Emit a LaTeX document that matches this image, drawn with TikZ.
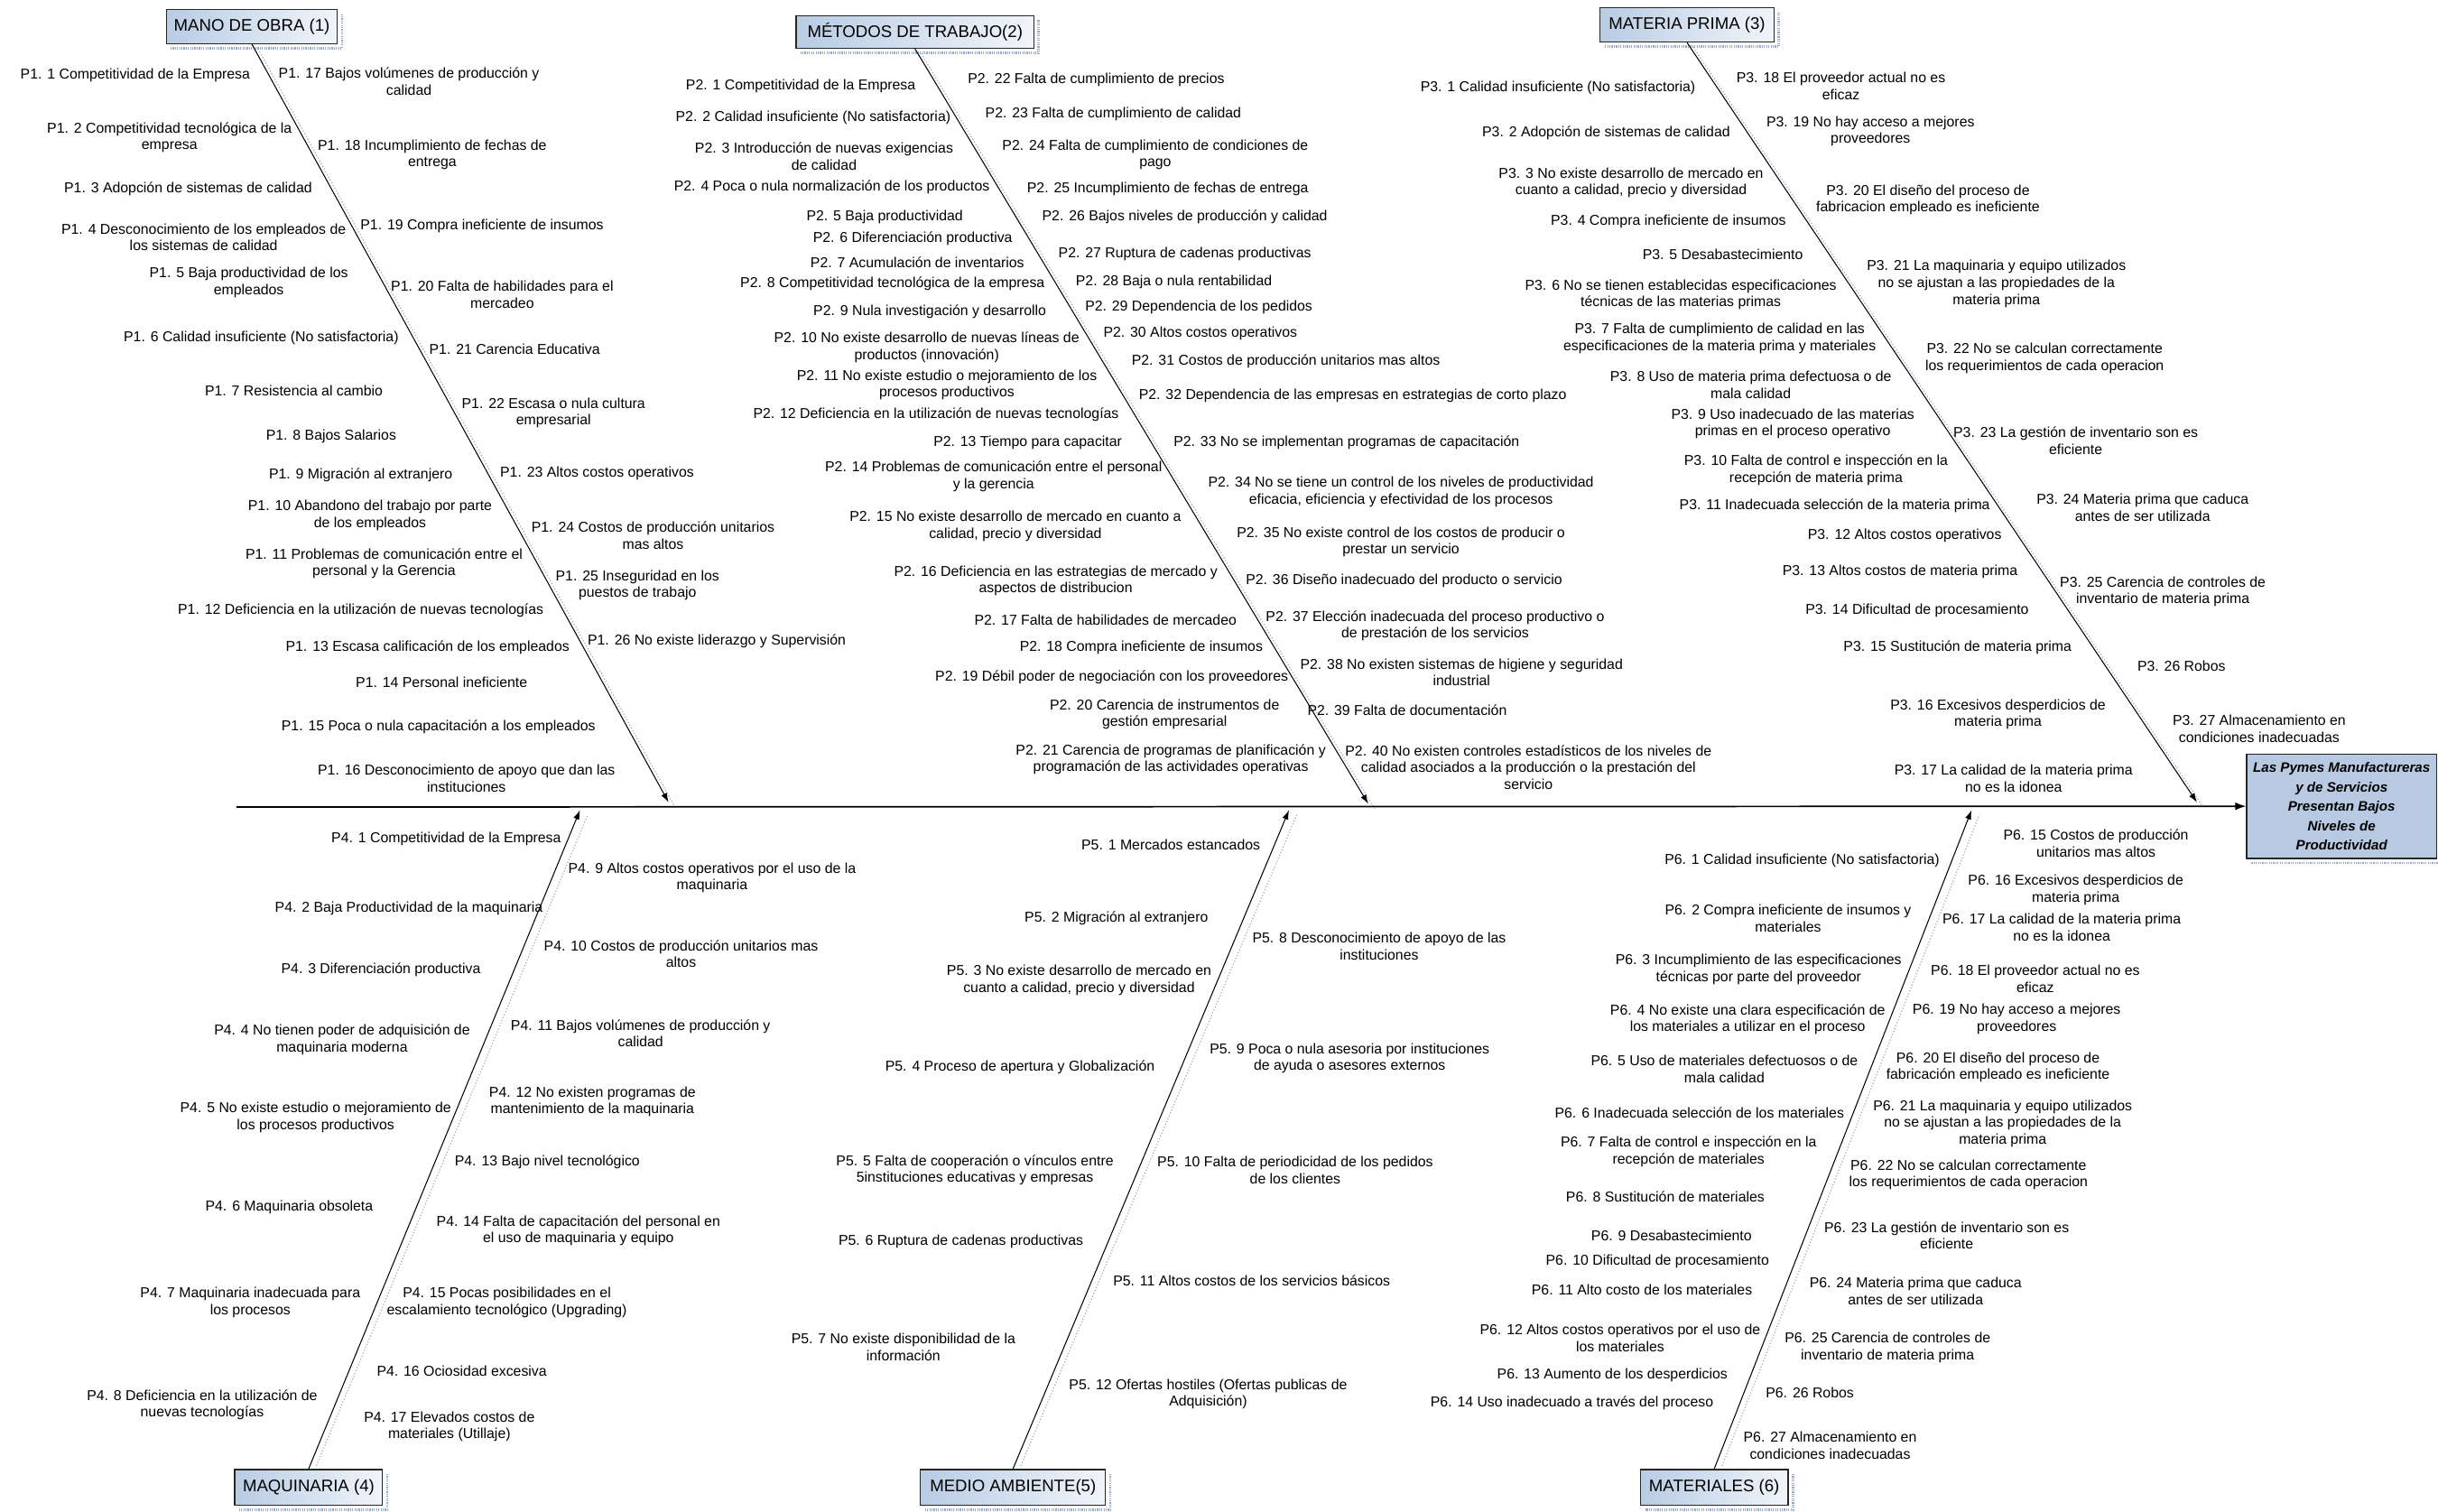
\documentclass[tikz,border=0pt]{standalone}
\usepackage{fontspec}
\setmainfont{Liberation Sans}
\usetikzlibrary{arrows.meta}
\definecolor{boxblue}{RGB}{184,204,228}
\definecolor{effblue}{RGB}{184,201,226}
\definecolor{shadecol}{RGB}{150,170,205}
\begin{document}
\begin{tikzpicture}[x=1pt,y=-1pt,
  cause/.style={align=center,inner sep=0pt,yshift=-1.5pt,font=\fontsize{9.2}{10.8}\selectfont},
  catbox/.style={draw=black!85,line width=0.8pt,left color=boxblue,right color=boxblue!20,
    minimum height=22pt,inner sep=1pt,font=\fontsize{10.8}{12}\selectfont},
  effbox/.style={draw=black!85,line width=0.8pt,fill=effblue,minimum width=122pt,minimum height=67pt,
    inner sep=1pt,align=center,font=\fontsize{8.8}{12.5}\selectfont\bfseries\itshape},
  boxshadow/.style={shadecol,line width=1.6pt,dash pattern=on 0.7pt off 0.7pt},
  bone/.style={line width=0.6pt,-{Latex[length=6pt,width=4pt]}},
  boneshadow/.style={shadecol,line width=0.7pt,dash pattern=on 0.7pt off 1.3pt},
  spine/.style={line width=1pt,-{Latex[length=7pt,width=5pt]}}]
\useasboundingbox (0,0) rectangle (1568,972);

% ---------- category boxes (with dotted shadows) ----------
\draw[boxshadow] (220,9) -- (220,31) -- (110,31);
\draw[boxshadow] (668,13) -- (668,34) -- (515,34);
\draw[boxshadow] (1144,8) -- (1144,30) -- (1032,30);
\draw[boxshadow] (249,948) -- (249,971) -- (154,971);
\draw[boxshadow] (714,948) -- (714,971) -- (595,971);
\draw[boxshadow] (1153,948) -- (1153,971) -- (1058,971);
\draw[boxshadow] (1448,555) -- (1568,555);

\node[catbox,minimum width=110pt] (c1) at (162,17) {MANO DE OBRA (1)};
\node[catbox,minimum width=153pt,minimum height=21pt] (c2) at (588.5,20.5) {MÉTODOS DE TRABAJO(2)};
\node[catbox,minimum width=112pt] (c3) at (1085,16) {MATERIA PRIMA (3)};
\node[catbox,minimum width=95pt,minimum height=23pt] (c4) at (198.5,956.5) {MAQUINARIA (4)};
\node[catbox,minimum width=119pt,minimum height=23pt] (c5) at (651.5,956.5) {MEDIO AMBIENTE(5)};
\node[catbox,minimum width=95pt,minimum height=23pt] (c6) at (1102.5,956.5) {MATERIALES (6)};

\node[effbox] (eff) at (1506,518.5) {Las Pymes Manufactureras\\ y de Servicios\\ Presentan Bajos\\ Niveles de\\ Productividad};

% ---------- spine and bones ----------
\coordinate (s0) at (152,519);
\coordinate (t1) at (430,516);
\coordinate (t2) at (880,517);
\coordinate (t3) at (1413,516);
\coordinate (b4) at (373,521);
\coordinate (b5) at (829,521);
\coordinate (b6) at (1268,521);

\draw[boneshadow] ([shift={(4,3)}]c1.south) -- ([shift={(4,3)}]t1);
\draw[boneshadow] ([shift={(4,3)}]c2.south) -- ([shift={(4,3)}]t2);
\draw[boneshadow] ([shift={(4,3)}]c3.south) -- ([shift={(4,3)}]t3);
\draw[boneshadow] ([shift={(5,-2)}]c4.north) -- ([shift={(5,3)}]b4);
\draw[boneshadow] ([shift={(5,-2)}]c5.north) -- ([shift={(5,3)}]b5);
\draw[boneshadow] ([shift={(5,-2)}]c6.north) -- ([shift={(5,3)}]b6);

\draw[spine] (s0) -- (eff.west);
\draw[bone] (c1.south) -- (t1);
\draw[bone] (c2.south) -- (t2);
\draw[bone] (c3.south) -- (t3);
\draw[bone] (c4.north) -- (b4);
\draw[bone] (c5.north) -- (b5);
\draw[bone] (c6.north) -- (b6);

% ---------- causes: MANO DE OBRA ----------
\node[cause] (p1n1) at (87,47) {P1. 1 Competitividad de la Empresa};
\node[cause] (p1n2) at (109,87) {P1. 2 Competitividad tecnológica de la\\ empresa};
\node[cause] (p1n3) at (121,120) {P1. 3 Adopción de sistemas de calidad};
\node[cause] (p1n4) at (131,151) {P1. 4 Desconocimiento de los empleados de\\ los sistemas de calidad};
\node[cause] (p1n5) at (160,180) {P1. 5 Baja productividad de los\\ empleados};
\node[cause] (p1n6) at (168,216) {P1. 6 Calidad insuficiente (No satisfactoria)};
\node[cause] (p1n7) at (189,250) {P1. 7 Resistencia al cambio};
\node[cause] (p1n8) at (213,279) {P1. 8 Bajos Salarios};
\node[cause] (p1n9) at (232,304) {P1. 9 Migración al extranjero};
\node[cause] (p1n10) at (238,330) {P1. 10 Abandono del trabajo por parte\\ de los empleados};
\node[cause] (p1n11) at (247,361) {P1. 11 Problemas de comunicación entre el\\ personal y la Gerencia};
\node[cause] (p1n12) at (232,391) {P1. 12 Deficiencia en la utilización de nuevas tecnologías};
\node[cause] (p1n13) at (275,415) {P1. 13 Escasa calificación de los empleados};
\node[cause] (p1n14) at (284,437) {P1. 14 Personal ineficiente};
\node[cause] (p1n15) at (282,466) {P1. 15 Poca o nula capacitación a los empleados};
\node[cause] (p1n16) at (300,499) {P1. 16 Desconocimiento de apoyo que dan las\\ instituciones};
\node[cause] (p1n17) at (263,51) {P1. 17 Bajos volúmenes de producción y\\ calidad};
\node[cause] (p1n18) at (278,98) {P1. 18 Incumplimiento de fechas de\\ entrega};
\node[cause] (p1n19) at (310,144) {P1. 19 Compra ineficiente de insumos};
\node[cause] (p1n20) at (323,188) {P1. 20 Falta de habilidades para el\\ mercadeo};
\node[cause] (p1n21) at (331,223) {P1. 21 Carencia Educativa};
\node[cause] (p1n22) at (356,264) {P1. 22 Escasa o nula cultura\\ empresarial};
\node[cause] (p1n23) at (384,303) {P1. 23 Altos costos operativos};
\node[cause] (p1n24) at (420,343) {P1. 24 Costos de producción unitarios\\ mas altos};
\node[cause] (p1n25) at (410,375) {P1. 25 Inseguridad en los\\ puestos de trabajo};
\node[cause] (p1n26) at (461,411) {P1. 26 No existe liderazgo y Supervisión};

% ---------- causes: MÉTODOS DE TRABAJO ----------
\node[cause] (p2n1) at (515,54) {P2. 1 Competitividad de la Empresa};
\node[cause] (p2n2) at (523,74) {P2. 2 Calidad insuficiente (No satisfactoria)};
\node[cause] (p2n3) at (530,99) {P2. 3 Introducción de nuevas exigencias\\ de calidad};
\node[cause] (p2n4) at (535,119) {P2. 4 Poca o nula normalización de los productos};
\node[cause] (p2n5) at (569,138) {P2. 5 Baja productividad};
\node[cause] (p2n6) at (587,152) {P2. 6 Diferenciación productiva};
\node[cause] (p2n7) at (590,167) {P2. 7 Acumulación de inventarios};
\node[cause] (p2n8) at (574,181) {P2. 8 Competitividad tecnológica de la empresa};
\node[cause] (p2n9) at (598,199) {P2. 9 Nula investigación y desarrollo};
\node[cause] (p2n10) at (596,222) {P2. 10 No existe desarrollo de nuevas líneas de\\ productos (innovación)};
\node[cause] (p2n11) at (609,246) {P2. 11 No existe estudio o mejoramiento de los\\ procesos productivos};
\node[cause] (p2n12) at (602,265) {P2. 12 Deficiencia en la utilización de nuevas tecnologías};
\node[cause] (p2n13) at (661,283) {P2. 13 Tiempo para capacitar};
\node[cause] (p2n14) at (639,305) {P2. 14 Problemas de comunicación entre el personal\\ y la gerencia};
\node[cause] (p2n15) at (653,337) {P2. 15 No existe desarrollo de mercado en cuanto a\\ calidad, precio y diversidad};
\node[cause] (p2n16) at (679,372) {P2. 16 Deficiencia en las estrategias de mercado y\\ aspectos de distribucion};
\node[cause] (p2n17) at (711,397) {P2. 17 Falta de habilidades de mercadeo};
\node[cause] (p2n18) at (734,415) {P2. 18 Compra ineficiente de insumos};
\node[cause] (p2n19) at (715,434) {P2. 19 Débil poder de negociación con los proveedores};
\node[cause] (p2n20) at (749,458) {P2. 20 Carencia de instrumentos de\\ gestión empresarial};
\node[cause] (p2n21) at (753,487) {P2. 21 Carencia de programas de planificación y\\ programación de las actividades operativas};
\node[cause] (p2n22) at (705,50) {P2. 22 Falta de cumplimiento de precios};
\node[cause] (p2n23) at (716,72) {P2. 23 Falta de cumplimiento de calidad};
\node[cause] (p2n24) at (743,98) {P2. 24 Falta de cumplimiento de condiciones de\\ pago};
\node[cause] (p2n25) at (751,120) {P2. 25 Incumplimiento de fechas de entrega};
\node[cause] (p2n26) at (762,138) {P2. 26 Bajos niveles de producción y calidad};
\node[cause] (p2n27) at (762,162) {P2. 27 Ruptura de cadenas productivas};
\node[cause] (p2n28) at (755,180) {P2. 28 Baja o nula rentabilidad};
\node[cause] (p2n29) at (771,196) {P2. 29 Dependencia de los pedidos};
\node[cause] (p2n30) at (772,213) {P2. 30 Altos costos operativos};
\node[cause] (p2n31) at (827,231) {P2. 31 Costos de producción unitarios mas altos};
\node[cause] (p2n32) at (870,253) {P2. 32 Dependencia de las empresas en estrategias de corto plazo};
\node[cause] (p2n33) at (866,283) {P2. 33 No se implementan programas de capacitación};
\node[cause] (p2n34) at (901,315) {P2. 34 No se tiene un control de los niveles de productividad\\ eficacia, eficiencia y efectividad de los procesos};
\node[cause] (p2n35) at (901,347) {P2. 35 No existe control de los costos de producir o\\ prestar un servicio};
\node[cause] (p2n36) at (903,372) {P2. 36 Diseño inadecuado del producto o servicio};
\node[cause] (p2n37) at (923,401) {P2. 37 Elección inadecuada del proceso productivo o\\ de prestación de los servicios};
\node[cause] (p2n38) at (940,431) {P2. 38 No existen sistemas de higiene y seguridad\\ industrial};
\node[cause] (p2n39) at (905,455) {P2. 39 Falta de documentación};
\node[cause] (p2n40) at (983,492) {P2. 40 No existen controles estadísticos de los niveles de\\ calidad asociados a la producción o la prestación del\\ servicio};

% ---------- causes: MATERIA PRIMA ----------
\node[cause] (p3n1) at (1002,55) {P3. 1 Calidad insuficiente (No satisfactoria)};
\node[cause] (p3n2) at (1033,84) {P3. 2 Adopción de sistemas de calidad};
\node[cause] (p3n3) at (1049,116) {P3. 3 No existe desarrollo de mercado en\\ cuanto a calidad, precio y diversidad};
\node[cause] (p3n4) at (1073,141) {P3. 4 Compra ineficiente de insumos};
\node[cause] (p3n5) at (1108,162) {P3. 5 Desabastecimiento};
\node[cause] (p3n6) at (1081,188) {P3. 6 No se tienen establecidas especificaciones\\ técnicas de las materias primas};
\node[cause] (p3n7) at (1106,216) {P3. 7 Falta de cumplimiento de calidad en las\\ especificaciones de la materia prima y materiales};
\node[cause] (p3n8) at (1126,246) {P3. 8 Uso de materia prima defectuosa o de\\ mala calidad};
\node[cause] (p3n9) at (1153,271) {P3. 9 Uso inadecuado de las materias\\ primas en el proceso operativo};
\node[cause] (p3n10) at (1168,301) {P3. 10 Falta de control e inspección en la\\ recepción de materia prima};
\node[cause] (p3n11) at (1180,324) {P3. 11 Inadecuada selección de la materia prima};
\node[cause] (p3n12) at (1225,343) {P3. 12 Altos costos operativos};
\node[cause] (p3n13) at (1222,366) {P3. 13 Altos costos de materia prima};
\node[cause] (p3n14) at (1233,391) {P3. 14 Dificultad de procesamiento};
\node[cause] (p3n15) at (1259,415) {P3. 15 Sustitución de materia prima};
\node[cause] (p3n16) at (1285,458) {P3. 16 Excesivos desperdicios de\\ materia prima};
\node[cause] (p3n17) at (1295,499) {P3. 17 La calidad de la materia prima\\ no es la idonea};
\node[cause] (p3n18) at (1184,54) {P3. 18 El proveedor actual no es\\ eficaz};
\node[cause] (p3n19) at (1203,83) {P3. 19 No hay acceso a mejores\\ proveedores};
\node[cause] (p3n20) at (1240,127) {P3. 20 El diseño del proceso de\\ fabricacion empleado es ineficiente};
\node[cause] (p3n21) at (1284,181) {P3. 21 La maquinaria y equipo utilizados\\ no se ajustan a las propiedades de la\\ materia prima};
\node[cause] (p3n22) at (1315,229) {P3. 22 No se calculan correctamente\\ los requerimientos de cada operacion};
\node[cause] (p3n23) at (1335,282) {P3. 23 La gestión de inventario son es\\ eficiente};
\node[cause] (p3n24) at (1378,325) {P3. 24 Materia prima que caduca\\ antes de ser utilizada};
\node[cause] (p3n25) at (1391,379) {P3. 25 Carencia de controles de\\ inventario de materia prima};
\node[cause] (p3n26) at (1403,427) {P3. 26 Robos};
\node[cause] (p3n27) at (1453,467) {P3. 27 Almacenamiento en\\ condiciones inadecuadas};

% ---------- causes: MAQUINARIA ----------
\node[cause] (p4n1) at (287,538) {P4. 1 Competitividad de la Empresa};
\node[cause] (p4n2) at (263,583) {P4. 2 Baja Productividad de la maquinaria};
\node[cause] (p4n3) at (245,622) {P4. 3 Diferenciación productiva};
\node[cause] (p4n4) at (220,667) {P4. 4 No tienen poder de adquisición de\\ maquinaria moderna};
\node[cause] (p4n5) at (203,717) {P4. 5 No existe estudio o mejoramiento de\\ los procesos productivos};
\node[cause] (p4n6) at (186,775) {P4. 6 Maquinaria obsoleta};
\node[cause] (p4n7) at (161,836) {P4. 7 Maquinaria inadecuada para\\ los procesos};
\node[cause] (p4n8) at (130,902) {P4. 8 Deficiencia en la utilización de\\ nuevas tecnologías};
\node[cause] (p4n9) at (458,563) {P4. 9 Altos costos operativos por el uso de la\\ maquinaria};
\node[cause] (p4n10) at (438,612) {P4. 10 Costos de producción unitarios mas\\ altos};
\node[cause] (p4n11) at (412,663) {P4. 11 Bajos volúmenes de producción y\\ calidad};
\node[cause] (p4n12) at (381,707) {P4. 12 No existen programas de\\ mantenimiento de la maquinaria};
\node[cause] (p4n13) at (352,746) {P4. 13 Bajo nivel tecnológico};
\node[cause] (p4n14) at (372,790) {P4. 14 Falta de capacitación del personal en\\ el uso de maquinaria y equipo};
\node[cause] (p4n15) at (326,836) {P4. 15 Pocas posibilidades en el\\ escalamiento tecnológico (Upgrading)};
\node[cause] (p4n16) at (297,880) {P4. 16 Ociosidad excesiva};
\node[cause] (p4n17) at (289,916) {P4. 17 Elevados costos de\\ materiales (Utillaje)};

% ---------- causes: MEDIO AMBIENTE ----------
\node[cause] (p5n1) at (753,542) {P5. 1 Mercados estancados};
\node[cause] (p5n2) at (718,589) {P5. 2 Migración al extranjero};
\node[cause] (p5n3) at (694,629) {P5. 3 No existe desarrollo de mercado en\\ cuanto a calidad, precio y diversidad};
\node[cause] (p5n4) at (656,685) {P5. 4 Proceso de apertura y Globalización};
\node[cause] (p5n5) at (627,751) {P5. 5 Falta de cooperación o vínculos entre\\ 5instituciones educativas y empresas};
\node[cause] (p5n6) at (618,797) {P5. 6 Ruptura de cadenas productivas};
\node[cause] (p5n7) at (581,865) {P5. 7 No existe disponibilidad de la\\ información};
\node[cause] (p5n8) at (887,607) {P5. 8 Desconocimiento de apoyo de las\\ instituciones};
\node[cause] (p5n9) at (868,679) {P5. 9 Poca o nula asesoria por instituciones\\ de ayuda o asesores externos};
\node[cause] (p5n10) at (833,751) {P5. 10 Falta de periodicidad de los pedidos\\ de los clientes};
\node[cause] (p5n11) at (805,822) {P5. 11 Altos costos de los servicios básicos};
\node[cause] (p5n12) at (777,895) {P5. 12 Ofertas hostiles (Ofertas publicas de\\ Adquisición)};

% ---------- causes: MATERIALES ----------
\node[cause] (p6n1) at (1159,552) {P6. 1 Calidad insuficiente (No satisfactoria)};
\node[cause] (p6n2) at (1150,589) {P6. 2 Compra ineficiente de insumos y\\ materiales};
\node[cause] (p6n3) at (1131,622) {P6. 3 Incumplimiento de las especificaciones\\ técnicas por parte del proveedor};
\node[cause] (p6n4) at (1124,654) {P6. 4 No existe una clara especificación de\\ los materiales a utilizar en el proceso};
\node[cause] (p6n5) at (1109,686) {P6. 5 Uso de materiales defectuosos o de\\ mala calidad};
\node[cause] (p6n6) at (1093,714) {P6. 6 Inadecuada selección de los materiales};
\node[cause] (p6n7) at (1086,739) {P6. 7 Falta de control e inspección en la\\ recepción de materiales};
\node[cause] (p6n8) at (1071,768) {P6. 8 Sustitución de materiales};
\node[cause] (p6n9) at (1075,793) {P6. 9 Desabastecimiento};
\node[cause] (p6n10) at (1066,810) {P6. 10 Dificultad de procesamiento};
\node[cause] (p6n11) at (1056,828) {P6. 11 Alto costo de los materiales};
\node[cause] (p6n12) at (1042,859) {P6. 12 Altos costos operativos por el uso de\\ los materiales};
\node[cause] (p6n13) at (1037,883) {P6. 13 Aumento de los desperdicios};
\node[cause] (p6n14) at (1011,901) {P6. 14 Uso inadecuado a través del proceso};
\node[cause] (p6n15) at (1348,541) {P6. 15 Costos de producción\\ unitarios mas altos};
\node[cause] (p6n16) at (1335,571) {P6. 16 Excesivos desperdicios de\\ materia prima};
\node[cause] (p6n17) at (1326,595) {P6. 17 La calidad de la materia prima\\ no es la idonea};
\node[cause] (p6n18) at (1309,628) {P6. 18 El proveedor actual no es\\ eficaz};
\node[cause] (p6n19) at (1297,654) {P6. 19 No hay acceso a mejores\\ proveedores};
\node[cause] (p6n20) at (1285,685) {P6. 20 El diseño del proceso de\\ fabricación empleado es ineficiente};
\node[cause] (p6n21) at (1288,721) {P6. 21 La maquinaria y equipo utilizados\\ no se ajustan a las propiedades de la\\ materia prima};
\node[cause] (p6n22) at (1266,754) {P6. 22 No se calculan correctamente\\ los requerimientos de cada operacion};
\node[cause] (p6n23) at (1252,793) {P6. 23 La gestión de inventario son es\\ eficiente};
\node[cause] (p6n24) at (1232,829) {P6. 24 Materia prima que caduca\\ antes de ser utilizada};
\node[cause] (p6n25) at (1214,865) {P6. 25 Carencia de controles de\\ inventario de materia prima};
\node[cause] (p6n26) at (1164,894) {P6. 26 Robos};
\node[cause] (p6n27) at (1177,928) {P6. 27 Almacenamiento en\\ condiciones inadecuadas};
\end{tikzpicture}
\end{document}
